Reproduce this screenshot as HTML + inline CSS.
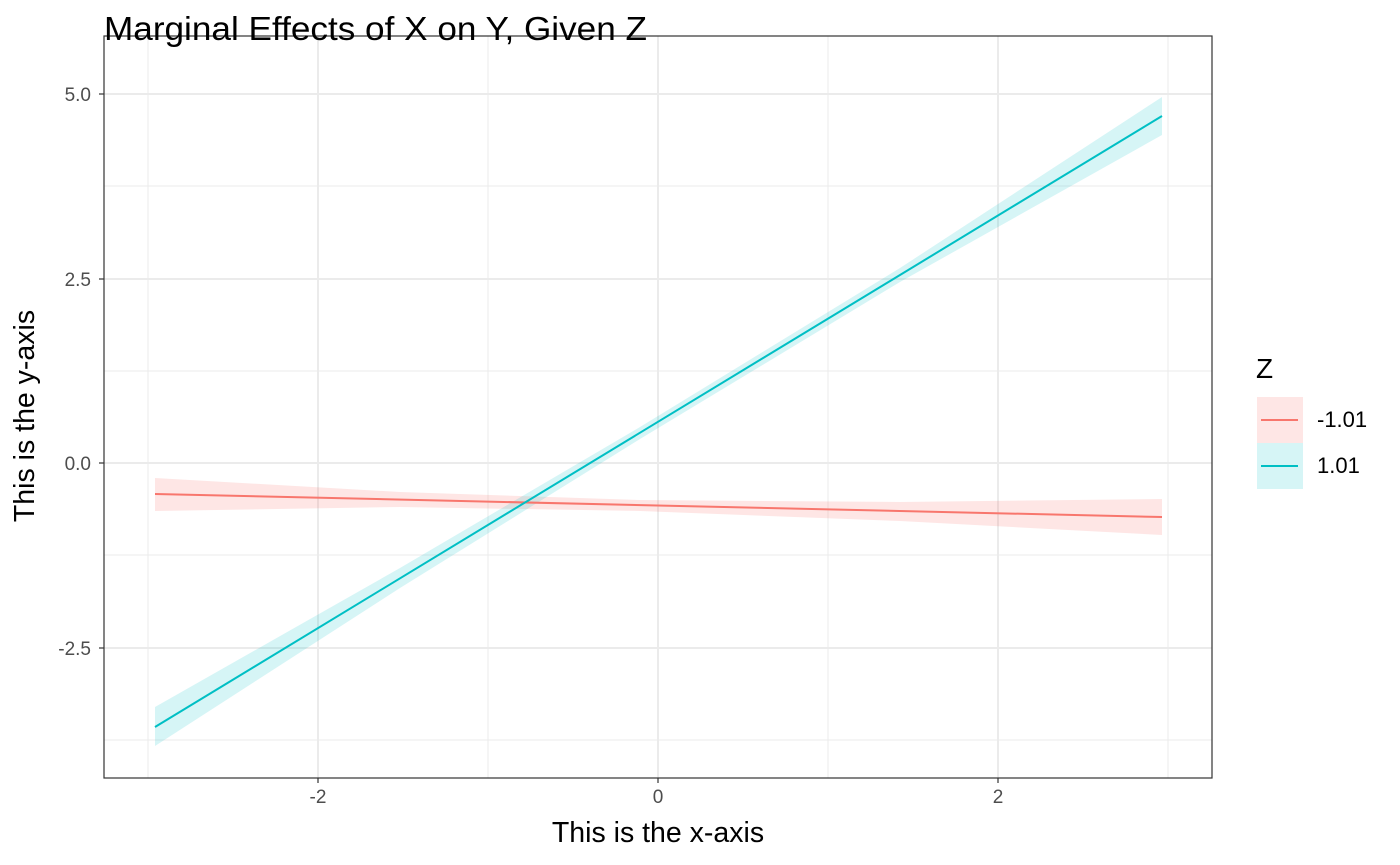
<!DOCTYPE html>
<html><head><meta charset="utf-8"><style>
body{margin:0;background:#fff;}
svg{display:block;font-family:"Liberation Sans",sans-serif;}
</style></head><body>
<svg width="1400" height="865" viewBox="0 0 1400 865" xmlns="http://www.w3.org/2000/svg">
<rect width="1400" height="865" fill="#fff"/>
<g stroke="#ebebeb" stroke-width="1">
<line x1="104" x2="1212" y1="186" y2="186"/><line x1="104" x2="1212" y1="371" y2="371"/>
<line x1="104" x2="1212" y1="555" y2="555"/><line x1="104" x2="1212" y1="740" y2="740"/>
<line y1="36" y2="778" x1="148" x2="148"/><line y1="36" y2="778" x1="488" x2="488"/>
<line y1="36" y2="778" x1="828" x2="828"/><line y1="36" y2="778" x1="1168" x2="1168"/>
</g>
<g stroke="#ebebeb" stroke-width="2">
<line x1="104" x2="1212" y1="94" y2="94"/><line x1="104" x2="1212" y1="279" y2="279"/>
<line x1="104" x2="1212" y1="463" y2="463"/><line x1="104" x2="1212" y1="648" y2="648"/>
<line y1="36" y2="778" x1="318" x2="318"/><line y1="36" y2="778" x1="658" x2="658"/>
<line y1="36" y2="778" x1="998" x2="998"/>
</g>
<polygon fill="#f8766d" fill-opacity="0.18" points="155,478 400,492 640,500 900,502 1162,499 1162,535 900,521 640,511 400,507 155,511"/>
<polygon fill="#00bfc4" fill-opacity="0.16" points="155,707 400,568 640,427 900,268 1162,97 1162,135 900,282 640,439 400,588 155,746"/>
<line x1="155" y1="494" x2="1162" y2="517" stroke="#f8766d" stroke-width="2"/>
<line x1="155" y1="727" x2="1162" y2="116" stroke="#00bfc4" stroke-width="2"/>
<rect x="104" y="36" width="1108" height="742" fill="none" stroke="#333" stroke-width="1.2"/>
<g stroke="#333" stroke-width="1.2">
<line x1="99" x2="104" y1="94" y2="94"/><line x1="99" x2="104" y1="279" y2="279"/>
<line x1="99" x2="104" y1="463" y2="463"/><line x1="99" x2="104" y1="648" y2="648"/>
<line y1="778" y2="783" x1="318" x2="318"/><line y1="778" y2="783" x1="658" x2="658"/>
<line y1="778" y2="783" x1="998" x2="998"/>
</g>
<g fill="#4d4d4d" font-size="19" text-anchor="end">
<text x="91" y="101">5.0</text><text x="91" y="286">2.5</text>
<text x="91" y="470">0.0</text><text x="91" y="655">-2.5</text>
</g>
<g fill="#4d4d4d" font-size="19" text-anchor="middle">
<text x="318" y="803">-2</text><text x="658" y="803">0</text><text x="998" y="803">2</text>
</g>
<text x="658" y="842" font-size="28.5" text-anchor="middle" fill="#000">This is the x-axis</text>
<text transform="translate(34,416) rotate(-90)" font-size="28.5" text-anchor="middle" fill="#000">This is the y-axis</text>
<text x="104" y="40" font-size="33" fill="#000" textLength="543" lengthAdjust="spacingAndGlyphs">Marginal Effects of X on Y, Given Z</text>
<text x="1256" y="378" font-size="28" fill="#000">Z</text>
<rect x="1257" y="397" width="46" height="46" fill="#f8766d" fill-opacity="0.18"/>
<rect x="1257" y="443" width="46" height="46" fill="#00bfc4" fill-opacity="0.16"/>
<line x1="1261" x2="1298" y1="420" y2="420" stroke="#f8766d" stroke-width="2"/>
<line x1="1261" x2="1298" y1="466" y2="466" stroke="#00bfc4" stroke-width="2"/>
<text x="1317" y="427" font-size="22" fill="#000">-1.01</text>
<text x="1317" y="473" font-size="22" fill="#000">1.01</text>
</svg>
</body></html>
